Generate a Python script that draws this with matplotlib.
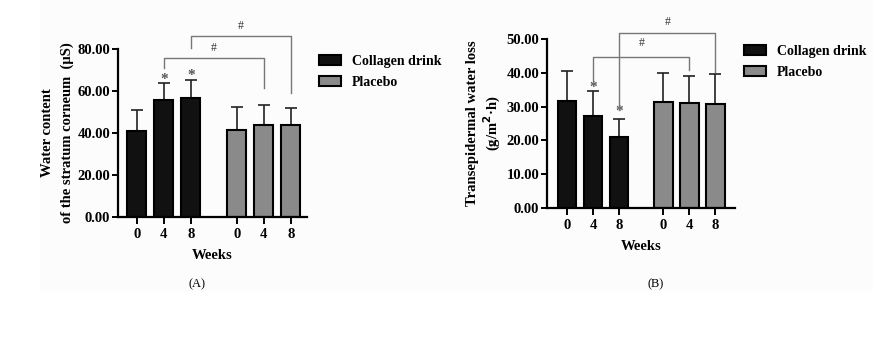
import matplotlib.pyplot as plt
from matplotlib.patches import Rectangle

# data
week_labels = ['0', '4', '8']
groups = ['Collagen drink', 'Placebo']

water_collagen = [40.8, 55.5, 56.7]
water_collagen_err = [10.3, 8.2, 8.5]
water_placebo = [41.6, 43.6, 43.8]
water_placebo_err = [10.8, 9.5, 8.0]

tewl_collagen = [31.7, 27.2, 21.1]
tewl_collagen_err = [8.8, 7.4, 5.1]
tewl_placebo = [31.3, 31.0, 30.8]
tewl_placebo_err = [8.5, 8.0, 8.8]

plt.rcParams['font.family'] = ['Liberation Serif', 'DejaVu Serif']
plt.rcParams['font.weight'] = 'bold'

W, H = 886, 345
fig = plt.figure(figsize=(W / 100, H / 100), dpi=100)
fig.patches.append(Rectangle((40 / W, 1 - 290 / H), 832 / W, 290 / H,
                             transform=fig.transFigure, color='#fcfcfc', zorder=-10))

pos_c = [0, 1, 2]
pos_p = [3.7, 4.7, 5.7]
bw = 0.7
gray = '#777777'


def panel(rect, xlim, ylim, yticks, c, ce, p, pe):
    ax = fig.add_axes(rect)
    ax.bar(pos_c, c, bw, color='#111111', edgecolor='black', lw=1.5, zorder=2)
    ax.bar(pos_p, p, bw, color='#8a8a8a', edgecolor='black', lw=1.5, zorder=2)
    ax.errorbar(pos_c, c, yerr=[[0] * 3, ce], fmt='none', ecolor='#222222',
                elinewidth=1.2, capsize=4, capthick=1.2, zorder=1)
    ax.errorbar(pos_p, p, yerr=[[0] * 3, pe], fmt='none', ecolor='#222222',
                elinewidth=1.2, capsize=4, capthick=1.2, zorder=1)
    ax.set_xlim(*xlim)
    ax.set_ylim(*ylim)
    ax.set_yticks(yticks)
    ax.set_yticklabels([f'{v:.2f}' for v in yticks])
    ax.set_xticks(pos_c + pos_p)
    ax.set_xticklabels(week_labels * 2)
    for s in ['top', 'right']:
        ax.spines[s].set_visible(False)
    for s in ['left', 'bottom']:
        ax.spines[s].set_linewidth(1.6)
    ax.tick_params(width=1.4, labelsize=10.5)
    ax.tick_params(axis='y', length=4.5, pad=1)
    ax.tick_params(axis='x', length=5, pad=3)
    ax.set_xlabel('Weeks', fontsize=10.5, fontweight='bold', labelpad=6)
    ax.patch.set_alpha(0)
    return ax


def bracket(ax, x1, x2, y, yl, yr, ytxt):
    ax.plot([x1, x1, x2, x2], [yl, y, y, yr], color=gray, lw=1, clip_on=False, zorder=3)
    ax.text((x1 + x2) / 2, ytxt, '#', ha='center', va='center', fontsize=8.5,
            color='#333333', fontweight='normal')


def star(ax, x, y):
    ax.text(x, y, '*', ha='center', va='center', fontsize=11, color='#555555')


# panel A
axA = panel([118 / W, 128 / H, 189 / W, 168 / H], (-0.7, 6.3), (0, 80),
            [0, 20, 40, 60, 80], water_collagen, water_collagen_err,
            water_placebo, water_placebo_err)
axA.set_ylabel('Water content\nof the stratum corneum  (μS)', fontsize=10.5,
               fontweight='bold', linespacing=1.6)
axA.yaxis.set_label_coords(-0.235, 0.5)
star(axA, 1, 65.5)
star(axA, 2, 67.5)
bracket(axA, 1, 4.7, 75.7, 71, 61.4, 80.5)
bracket(axA, 2, 5.7, 86.2, 80.5, 59, 91)

# panel B
axB = panel([547 / W, 137 / H, 188 / W, 169 / H], (-0.77, 6.45), (0, 50),
            [0, 10, 20, 30, 40, 50], tewl_collagen, tewl_collagen_err,
            tewl_placebo, tewl_placebo_err)
axB.set_ylabel('Transepidermal water loss\n(g/m$^2$·h)', fontsize=10.5,
               fontweight='bold', linespacing=1.15)
axB.yaxis.set_label_coords(-0.235, 0.5)
star(axB, 1, 35.7)
star(axB, 2, 28.6)
bracket(axB, 1, 4.7, 44.8, 37.9, 40.8, 48.8)
bracket(axB, 2, 5.7, 51.8, 29, 40.2, 55)

# legends
for ax, x0, y0 in [(axA, 306, 42), (axB, 731, 32)]:
    handles = ax.patches[0], ax.patches[3]
    leg = fig.legend(handles, groups, loc='upper left',
                     bbox_to_anchor=(x0 / W, 1 - y0 / H), frameon=False,
                     fontsize=10, handlelength=1.6, handleheight=0.7,
                     labelspacing=0.6, handletextpad=0.8)
    for t in leg.get_texts():
        t.set_fontweight('bold')

fig.text(197 / W, 1 - 284 / H, '(A)', ha='center', va='center', fontsize=9,
         fontweight='normal')
fig.text(656 / W, 1 - 284 / H, '(B)', ha='center', va='center', fontsize=9,
         fontweight='normal')

fig.savefig('out.png', dpi=100)
